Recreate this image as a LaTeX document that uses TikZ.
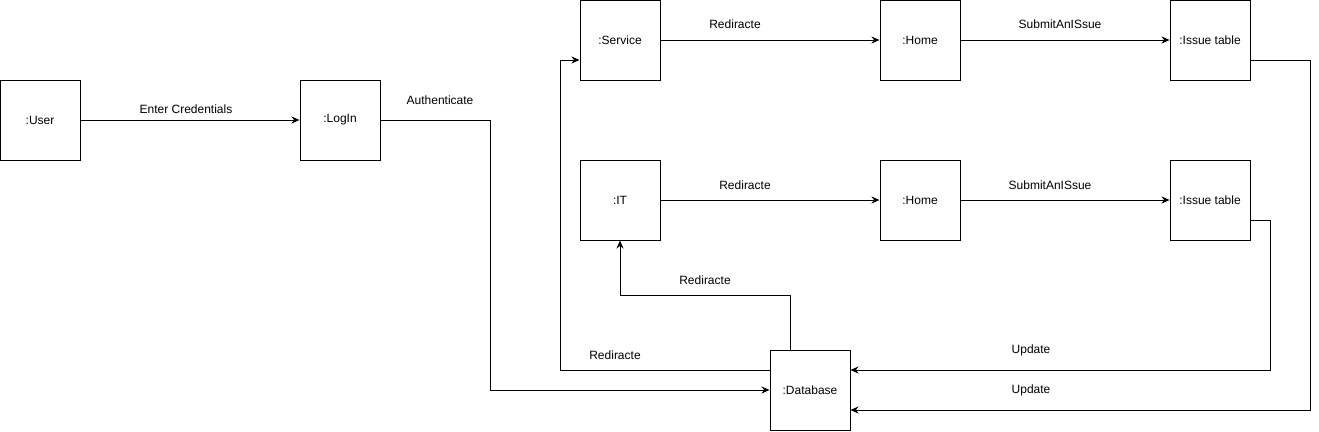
\documentclass[tikz,border=0pt]{standalone}
\usepackage{fontspec}
\setmainfont{Liberation Sans}
\usetikzlibrary{arrows.meta}
\begin{document}
\begin{tikzpicture}[x=1pt,y=-1pt,
  obj/.style={draw,line width=1pt,minimum width=80pt,minimum height=80pt,inner sep=0pt,font=\fontsize{12}{14}\selectfont},
  conn/.style={line width=1pt,-{Stealth[length=8pt,width=7pt]}},
  lbl/.style={font=\fontsize{12}{14}\selectfont,inner sep=0pt}]
\useasboundingbox (0,0) rectangle (1319,431);
\node[obj] (user) at (40,120) {:User};
\node[obj] (login) at (340,120) {:LogIn};
\node[obj] (service) at (620,40) {:Service};
\node[obj] (home1) at (920,40) {:Home};
\node[obj] (issue1) at (1210,40) {:Issue table};
\node[obj] (it) at (620,200) {:IT};
\node[obj] (home2) at (920,200) {:Home};
\node[obj] (issue2) at (1210,200) {:Issue table};
\node[obj] (db) at (810,390) {:Database};
\draw[conn] (user) -- (login);
\node[lbl] (l1) at (186,109) {Enter Credentials};
\draw[conn] (login.east) -- (490,120) -- (490,390) -- (db.west);
\node[lbl] (l2) at (440,100) {Authenticate};
\draw[conn] (service) -- (home1);
\node[lbl] (l3) at (735,24) {Rediracte};
\draw[conn] (home1) -- (issue1);
\node[lbl] (l4) at (1060,24) {SubmitAnISsue};
\draw[conn] (it) -- (home2);
\node[lbl] (l5) at (745,185) {Rediracte};
\draw[conn] (home2) -- (issue2);
\node[lbl] (l6) at (1050,185) {SubmitAnISsue};
\draw[conn] ([yshift=-20pt]issue1.east) -- (1310,60) -- (1310,410) -- ([yshift=-20pt]db.east);
\node[lbl] (l7) at (1031,390) {Update};
\draw[conn] ([yshift=-20pt]issue2.east) -- (1270,220) -- (1270,370) -- ([yshift=20pt]db.east);
\node[lbl] (l8) at (1031,350) {Update};
\draw[conn] ([xshift=-20pt]db.north) -- (790,295) -- (620,295) -- (it.south);
\node[lbl] (l9) at (705,280) {Rediracte};
\draw[conn] ([yshift=20pt]db.west) -- (560,370) -- (560,60) -- ([yshift=-20pt]service.west);
\node[lbl] (l10) at (615,355) {Rediracte};
\end{tikzpicture}
\end{document}
